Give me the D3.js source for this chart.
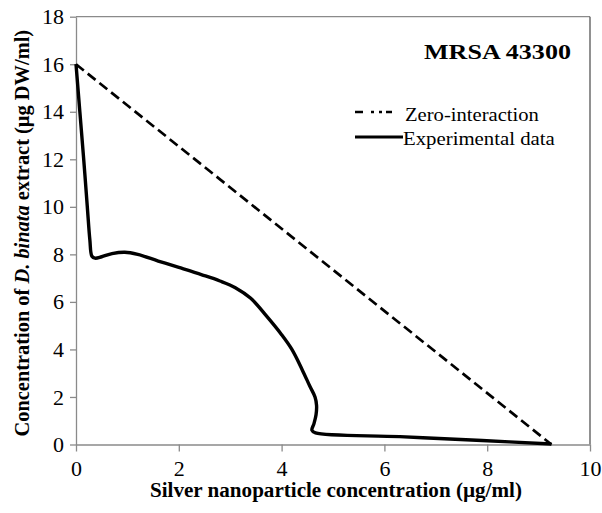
<!DOCTYPE html>
<html>
<head>
<meta charset="utf-8">
<script src="https://cdn.jsdelivr.net/npm/d3@7/dist/d3.min.js"></script>
<style>
  html, body { margin: 0; padding: 0; background: #fff; }
  svg { display: block; }
  svg text { font-family: "Liberation Serif", "Times New Roman", serif !important; fill: #000; }
</style>
</head>
<body>
<svg id="chart" width="602" height="513"></svg>
<script>
// ---- data ----
const xTicks = [0, 2, 4, 6, 8, 10];
const yTicks = [0, 2, 4, 6, 8, 10, 12, 14, 16, 18];

const zeroX = [0, 9.25];
const zeroY = [16, 0];

const expX = [0, 0.075, 0.15, 0.22, 0.27, 0.31, 0.37, 0.5, 0.7, 0.95, 1.2, 1.6, 2.0, 2.45, 2.8, 3.1, 3.4, 3.7, 4.0, 4.2, 4.4, 4.55, 4.65, 4.68, 4.67, 4.63, 4.59, 4.66, 6.3, 7.9, 9.25];
const expY = [16, 14, 12, 10, 8.6, 7.92, 7.84, 7.9, 8.03, 8.09, 8.0, 7.72, 7.45, 7.14, 6.88, 6.6, 6.15, 5.42, 4.62, 4.0, 3.15, 2.45, 2.0, 1.65, 1.25, 0.88, 0.6, 0.49, 0.33, 0.17, 0.02];

const titleText = "MRSA 43300";
const legendLabels = ["Zero-interaction", "Experimental data"];
const xTitle = "Silver nanoparticle concentration (\u00b5g/ml)";

// ---- layout ----
const svg = d3.select("#chart");
const X0 = 76, X1 = 590, Y0 = 444.5, Y1 = 16.7;
const x = d3.scaleLinear().domain([0, 10]).range([X0, X1]);
const y = d3.scaleLinear().domain([0, 18]).range([Y0, Y1]);
const axisColor = "#8a8a8a";

function fit(sel, tx, ty, target, anchor) {
  sel.attr("x", 0).attr("y", 0);
  const w = sel.node().getComputedTextLength();
  const s = target / w;
  let dx = 0;
  if (anchor === "middle") dx = -target / 2;
  sel.attr("text-anchor", "start")
     .attr("transform", `translate(${tx + dx},${ty}) scale(${s},1)`);
}

// frame top & right
svg.append("line").attr("x1", X0).attr("x2", X1).attr("y1", Y1).attr("y2", Y1)
  .attr("stroke", axisColor).attr("stroke-width", 1.3);
svg.append("line").attr("x1", X1).attr("x2", X1).attr("y1", Y1).attr("y2", Y0)
  .attr("stroke", "#555").attr("stroke-width", 1.3);

// axes
const gx = svg.append("g").attr("transform", `translate(0,${Y0})`)
  .call(d3.axisBottom(x).tickValues(xTicks).tickSize(7).tickSizeOuter(0).tickPadding(9).tickFormat(d3.format("d")));
const gy = svg.append("g").attr("transform", `translate(${X0},0)`)
  .call(d3.axisLeft(y).tickValues(yTicks).tickSize(6).tickSizeOuter(0).tickPadding(6).tickFormat(d3.format("d")));
[gx, gy].forEach(g => {
  g.attr("font-family", "Liberation Serif");
  g.select(".domain").attr("stroke", axisColor).attr("stroke-width", 1.3);
  g.selectAll(".tick line").attr("stroke", axisColor).attr("stroke-width", 1.3);
  g.selectAll(".tick text").attr("font-size", 22).attr("fill", "#000");
});

// zero-interaction line
const zeroData = zeroX.map((v, i) => [v, zeroY[i]]);
svg.append("path").datum(zeroData)
  .attr("d", d3.line().x(d => x(d[0])).y(d => y(d[1])))
  .attr("fill", "none").attr("stroke", "#000").attr("stroke-width", 2.7)
  .attr("stroke-dasharray", "10,5");

// experimental curve
const expData = expX.map((v, i) => [v, expY[i]]);
svg.append("path").datum(expData)
  .attr("d", d3.line().x(d => x(d[0])).y(d => y(d[1])).curve(d3.curveCatmullRom.alpha(0.5)))
  .attr("fill", "none").attr("stroke", "#000").attr("stroke-width", 3.4)
  .attr("stroke-linejoin", "round").attr("stroke-linecap", "butt");

// title
fit(svg.append("text").attr("font-size", 22).attr("font-weight", "bold").text(titleText), 424, 59, 147);

// legend
svg.append("line").attr("x1", 355).attr("x2", 392).attr("y1", 112).attr("y2", 112)
  .attr("stroke", "#000").attr("stroke-width", 2.6).attr("stroke-dasharray", "8,8,3,5,3,4,8");
svg.append("line").attr("x1", 355).attr("x2", 403).attr("y1", 137).attr("y2", 137)
  .attr("stroke", "#000").attr("stroke-width", 3.2);
fit(svg.append("text").attr("font-size", 19).text(legendLabels[0]), 405, 121, 134);
fit(svg.append("text").attr("font-size", 19).text(legendLabels[1]), 403, 145, 152);

// x title
fit(svg.append("text").attr("font-size", 20).attr("font-weight", "bold").text(xTitle), 336, 497, 372, "middle");

// y title
const yt = svg.append("text").attr("font-size", 19).attr("font-weight", "bold");
yt.append("tspan").text("Concentration of ");
yt.append("tspan").attr("font-style", "italic").text("D. binata");
yt.append("tspan").text(" extract (\u00b5g DW/ml)");
(function () {
  const w = yt.node().getComputedTextLength();
  const L = 407;
  const s = L / w;
  yt.attr("x", 0).attr("y", 0).attr("text-anchor", "start")
    .attr("transform", `translate(29,${233 + L / 2}) rotate(-90) scale(${s},1.1)`);
})();
</script>
</body>
</html>
